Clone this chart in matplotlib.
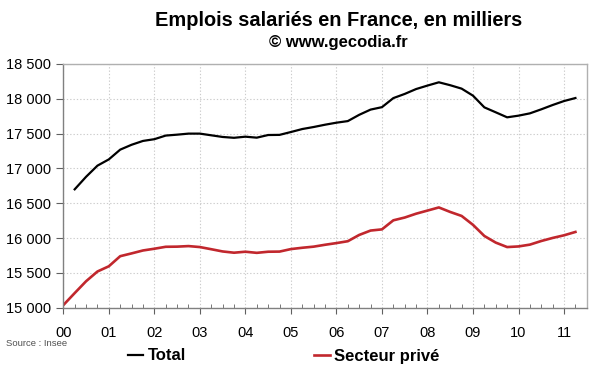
# -*- coding=utf-8 -*-
import matplotlib
matplotlib.use('Agg')
import matplotlib.pyplot as plt
from matplotlib.ticker import MultipleLocator, FuncFormatter
import numpy as np

# emplois salaries, en milliers (trimestriel, fin de trimestre)
total = [16700, 16880, 17040, 17130, 17270, 17340, 17395, 17420,
         17472, 17485, 17500, 17500, 17476, 17452, 17440, 17456,
         17442, 17480, 17482, 17523, 17566, 17595, 17628, 17657,
         17680, 17770, 17845, 17880, 18010, 18070, 18140, 18190,
         18237, 18195, 18146, 18045, 17877, 17806, 17734, 17758,
         17791, 17849, 17911, 17968, 18011]
# secteur prive, depart fin 1999
prive = [15037, 15210, 15380, 15520, 15595, 15740, 15780, 15822, 15847,
         15875, 15877, 15885, 15871, 15840, 15808, 15790, 15804,
         15788, 15804, 15806, 15842, 15861, 15877, 15904, 15928,
         15955, 16045, 16108, 16125, 16255, 16295, 16350, 16395,
         16440, 16375, 16318, 16190, 16030, 15935, 15871, 15880,
         15906, 15958, 16002, 16040, 16088]
annees = ['00', '01', '02', '03', '04', '05', '06', '07', '08', '09', '10', '11']

plt.rcParams['font.family'] = ['Liberation Sans', 'DejaVu Sans']

x_prive = np.arange(len(prive)) * 0.25
x_total = np.arange(1, len(total) + 1) * 0.25

fig = plt.figure(figsize=(6, 3.72), dpi=100)
ax = fig.add_axes([0.1055, 0.1728, 0.8725, 0.6552])

ax.plot(x_total, total, color='black', lw=1.6, label='Total')
ax.plot(x_prive, prive, color='#c1272d', lw=1.9, label='Secteur privé')

ax.set_xlim(0, 11.5)
ax.set_ylim(15000, 18500)
ax.xaxis.set_minor_locator(MultipleLocator(0.25))
ax.yaxis.set_major_locator(MultipleLocator(500))
ax.set_xticks(range(len(annees)))
ax.set_xticklabels(annees)
ax.yaxis.set_major_formatter(FuncFormatter(lambda v, p: '{:,.0f}'.format(v).replace(',', ' ')))

ax.grid(True, which='major', color='#cccccc', linestyle=(0, (1.2, 1.8)), lw=0.8)
ax.set_axisbelow(True)

for s in ['left', 'bottom']:
    ax.spines[s].set_color('#808080')
    ax.spines[s].set_linewidth(1.0)
for s in ['top', 'right']:
    ax.spines[s].set_color('#b0b0b0')
    ax.spines[s].set_linewidth(1.0)

ax.tick_params(axis='x', which='major', direction='out', length=4, color='#606060',
               labelsize=10.5, pad=9)
ax.tick_params(axis='x', which='minor', direction='in', length=3, color='#606060')
ax.tick_params(axis='y', which='major', direction='out', length=5, color='#606060',
               labelsize=10.5, pad=4)

fig.text(0.565, 1 - 20 / 372., 'Emplois salariés en France, en milliers', ha='center', va='center',
         fontsize=14.4, fontweight='bold')
fig.text(0.564, 1 - 43 / 372., '© www.gecodia.fr', ha='center', va='center',
         fontsize=12, fontweight='bold')
fig.text(0.01, 1 - 344 / 372., 'Source : Insee', ha='left', va='center',
         fontsize=6.8, color='#505050')

leg = fig.legend(loc='center', bbox_to_anchor=(0.4725, 1 - 356 / 372.), ncol=2,
                 frameon=False, handlelength=0.95, handletextpad=0.25,
                 columnspacing=7.7, prop={'weight': 'bold', 'size': 12})

fig.savefig('out.png', dpi=100)
